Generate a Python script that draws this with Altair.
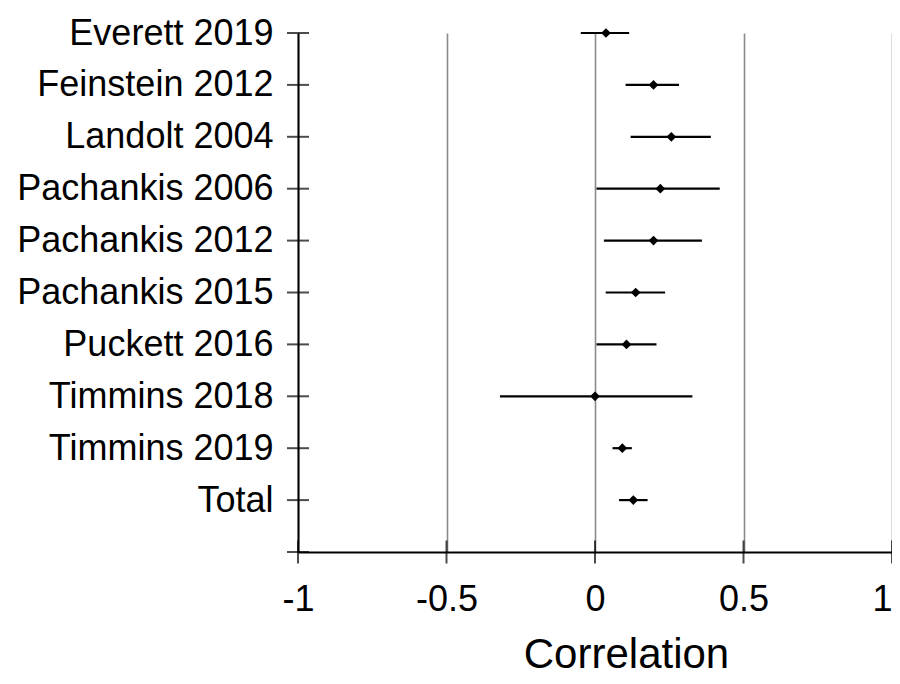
import altair as alt
import pandas as pd

studies = ["Everett 2019", "Feinstein 2012", "Landolt 2004", "Pachankis 2006",
           "Pachankis 2012", "Pachankis 2015", "Puckett 2016", "Timmins 2018",
           "Timmins 2019", "Total"]
r = [0.037, 0.197, 0.257, 0.220, 0.197, 0.137, 0.106, 0.000, 0.092, 0.129]
lo = [-0.048, 0.103, 0.120, 0.005, 0.030, 0.036, 0.005, -0.320, 0.059, 0.081]
hi = [0.115, 0.283, 0.390, 0.420, 0.360, 0.236, 0.207, 0.328, 0.124, 0.177]

x_ticks = [-1, -0.5, 0, 0.5, 1]
y_rows = list(range(1, len(studies) + 2))  # one empty slot below "Total"

df = pd.DataFrame({"study": studies, "row": list(range(1, len(studies) + 1)),
                   "r": r, "lo": lo, "hi": hi})
ytick_df = pd.DataFrame({"row": y_rows, "x": [x_ticks[0]] * len(y_rows)})
xtick_df = pd.DataFrame({"x": x_ticks, "row": [y_rows[-1]] * len(x_ticks)})

FONT = "Liberation Sans"
label_arr = "[" + ",".join("'" + s + "'" for s in studies + [""]) + "]"

xscale = alt.Scale(domain=[-1, 1], nice=False, zero=False)
yscale = alt.Scale(domain=[1, len(studies) + 1], reverse=True, nice=False, zero=False)

x_axis = alt.Axis(values=x_ticks, labelExpr="toString(datum.value)", title="Correlation",
                  grid=True, gridColor="#8a8a8a", gridWidth=1.6, ticks=False, tickSize=0,
                  domainColor="black", domainWidth=2, labelFont=FONT, labelFontSize=36,
                  labelColor="black", labelPadding=30, labelFlush=False, labelLimit=0,
                  labelAlign={"expr": "datum.value >= 1 ? 'right' : 'center'"},
                  titleFont=FONT, titleFontSize=42, titleFontWeight="normal",
                  titleColor="black", titleX=328, titleY=115, titleAlign="center",
                  titleBaseline="alphabetic")
y_axis = alt.Axis(values=y_rows, labelExpr=label_arr + "[datum.value - 1]", title=None,
                  grid=False, ticks=False, tickSize=0, domainColor="black", domainWidth=2,
                  labelFont=FONT, labelFontSize=36, labelColor="black", labelPadding=25,
                  labelLimit=0, labelAlign="right", labelBaseline="middle", zindex=1)

base = alt.Chart(df)

bars = base.mark_rule(color="black", strokeWidth=2.2).encode(
    x=alt.X("lo:Q", scale=xscale, axis=x_axis),
    x2="hi:Q",
    y=alt.Y("row:Q", scale=yscale, axis=y_axis),
)
points = base.mark_point(shape="diamond", filled=True, color="black", size=95, opacity=1).encode(
    x=alt.X("r:Q", scale=xscale),
    y=alt.Y("row:Q", scale=yscale),
)
yticks = alt.Chart(ytick_df).mark_tick(orient="horizontal", color="black", size=22, thickness=2).encode(
    x=alt.X("x:Q", scale=xscale),
    y=alt.Y("row:Q", scale=yscale),
)
xticks = alt.Chart(xtick_df).mark_tick(orient="vertical", color="black", size=23, thickness=2).encode(
    x=alt.X("x:Q", scale=xscale),
    y=alt.Y("row:Q", scale=yscale),
)

chart = alt.layer(bars, points, yticks, xticks).properties(
    width=594, height=519,
    autosize=alt.AutoSizeParams(type="none"),
    padding={"left": 290, "top": 25, "right": 0, "bottom": 124},
    background="white",
).configure_view(stroke=None)

chart.save("out.html", embed_options={"renderer": "svg", "actions": False})
